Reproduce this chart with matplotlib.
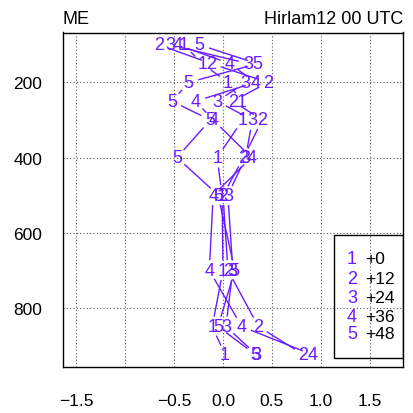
import numpy as np
import matplotlib
matplotlib.use("Agg")
import matplotlib.pyplot as plt
from matplotlib.patches import Rectangle

plt.rcParams['font.family'] = ['Liberation Sans', 'DejaVu Sans']

# pressure levels (hPa)
levels = [100, 150, 200, 250, 300, 400, 500, 700, 850, 925]
# series values per forecast lead time
s_p00 = [-0.40, -0.21, 0.05, 0.19, 0.20, -0.06, -0.01, 0.00, -0.11, 0.02]
s_p12 = [-0.65, -0.12, 0.46, 0.10, 0.40, 0.21, 0.00, 0.05, 0.36, 0.82]
s_p24 = [-0.54, 0.26, 0.23, -0.06, 0.30, 0.23, 0.05, 0.10, 0.03, 0.34]
s_p36 = [-0.46, 0.07, 0.33, -0.28, -0.10, 0.29, -0.10, -0.14, 0.19, 0.91]
s_p48 = [-0.24, 0.35, -0.35, -0.52, -0.13, -0.47, -0.05, 0.12, -0.05, 0.33]
series = [s_p00, s_p12, s_p24, s_p36, s_p48]
symbols = ['1', '2', '3', '4', '5']
legend_labels = ['+0', '+12', '+24', '+36', '+48']

x_ticks = [-1.5, -1.0, -0.5, 0.0, 0.5, 1.0, 1.5]
x_ticklabels = ['\u22121.5', '', '\u22120.5', '0.0', '0.5', '1.0', '1.5']
y_ticks = [200, 400, 600, 800]

color = '#6a1cff'
W, H = 414, 414
fig = plt.figure(figsize=(W / 100, H / 100), dpi=100)
L, R, T, B = 63, 403, 33.5, 368
ax = fig.add_axes([L / W, 1 - B / H, (R - L) / W, (B - T) / H])
ax.set_xlim(-1.633, 1.837)
ax.set_ylim(958, 67)

ax.set_xticks(x_ticks)
ax.set_xticklabels(x_ticklabels)
ax.set_yticks(y_ticks)
ax.tick_params(axis='both', length=0, labelsize=12.5)
ax.tick_params(axis='x', pad=19)
ax.tick_params(axis='y', pad=15)
ax.grid(True, color='0.35', linestyle=(0, (1, 2)), linewidth=0.8)
ax.set_axisbelow(True)
for sp in ax.spines.values():
    sp.set_linewidth(1.0)
    sp.set_color('black')

fig.canvas.draw()
trans = ax.transData
inv = trans.inverted()
gap = 10.0
for vals, sym in zip(series, symbols):
    pts = trans.transform(np.column_stack([vals, levels]))
    for i in range(len(pts) - 1):
        p0, p1 = pts[i], pts[i + 1]
        d = p1 - p0
        n = np.hypot(*d)
        if n <= 2 * gap:
            continue
        u = d / n
        a = inv.transform(p0 + u * gap)
        b = inv.transform(p1 - u * gap)
        ax.plot([a[0], b[0]], [a[1], b[1]], color=color, lw=1.0, solid_capstyle='butt')
    for xv, yv in zip(vals, levels):
        ax.text(xv, yv, sym, color=color, fontsize=13, ha='center', va='center')

# legend box
ax.add_patch(Rectangle((0.797, 0.027), 0.203, 0.368, transform=ax.transAxes,
                       fill=False, edgecolor='black', lw=1.0, zorder=5))
leg_y = [0.323, 0.266, 0.209, 0.152, 0.099]
for sym, lab, yy in zip(symbols, legend_labels, leg_y):
    ax.text(0.85, yy, sym, color=color, fontsize=13, ha='center', va='center', transform=ax.transAxes)
    ax.text(0.888, yy, lab, color='black', fontsize=12.5, ha='left', va='center', transform=ax.transAxes)

fig.text(L / W, 1 - 24 / H, 'ME', fontsize=13, ha='left', va='baseline')
fig.text(R / W, 1 - 24 / H, 'Hirlam12 00 UTC', fontsize=13, ha='right', va='baseline')

fig.savefig('out.png', dpi=100)
